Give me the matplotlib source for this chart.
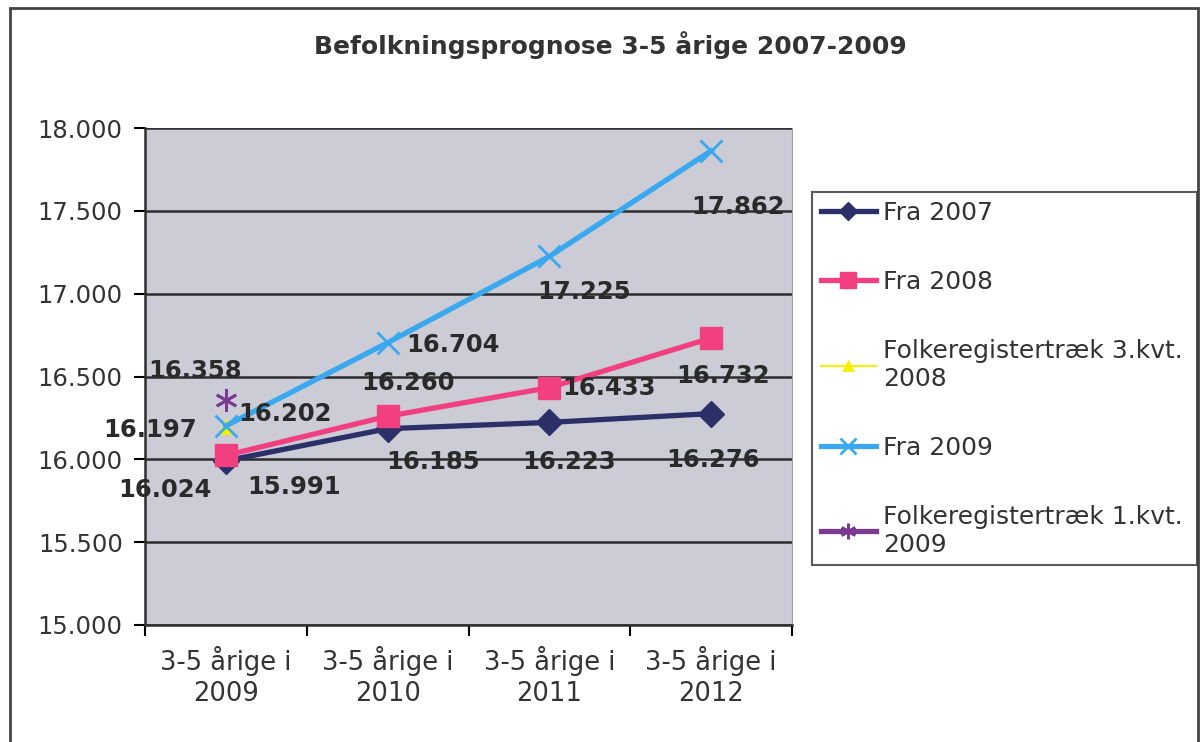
import matplotlib
matplotlib.use('Agg')
import matplotlib.pyplot as plt
from matplotlib.patches import Rectangle
import numpy as np

categories = ['3-5 årige i\n2009', '3-5 årige i\n2010', '3-5 årige i\n2011', '3-5 årige i\n2012']
fra_2007 = [15991, 16185, 16223, 16276]
fra_2008 = [16024, 16260, 16433, 16732]
folke_3kvt_2008 = [16197]
fra_2009 = [16202, 16704, 17225, 17862]
folke_1kvt_2009 = [16358]

# label offsets in pixels (dx, dy), one per point
off_2007 = [(68, -26), (45, -33), (20, -40), (2, -46)]
off_2008 = [(-61, -35), (20, 33), (60, 0), (12, -38)]
off_f3 = [(-76, -3)]
off_2009 = [(59, 12), (65, -2), (35, -36), (27, -56)]
off_f1 = [(-31, 29)]

plt.rcParams['font.family'] = ['DejaVu Sans']
fig = plt.figure(figsize=(12.03, 7.42), dpi=100)
ax = fig.add_axes([145/1203, 1-625/742, (792-145)/1203, (625-128)/742])
ax.set_facecolor('#cbccd6')

x = np.arange(len(categories))
series = [
    (fra_2007, 'Fra 2007', '#2b3068', 'D', 13, 3.8, off_2007),
    (fra_2008, 'Fra 2008', '#f23f80', 's', 16, 3.8, off_2008),
    (folke_3kvt_2008, 'Folkeregistertræk 3.kvt.\n2008', '#f5f000', '^', 9, 1.5, off_f3),
    (fra_2009, 'Fra 2009', '#3aa8ee', 'x', 16, 3.8, off_2009),
    (folke_1kvt_2009, 'Folkeregistertræk 1.kvt.\n2009', '#7a3a92', (6, 2, 0), 16, 3.8, off_f1),
]
handles = []
for vals, lab, col, mk, ms, lw, offs in series:
    xs = x[:len(vals)]
    h, = ax.plot(xs, vals, color=col, lw=lw, marker=mk, markersize=ms,
                 markeredgewidth=2 if mk in ('x', (6, 2, 0), '^') else 1,
                 markeredgecolor=col, label=lab, zorder=3)
    handles.append(h)
    for xi, v, (dx, dy) in zip(xs, vals, offs):
        ax.annotate(f'{v/1000:.3f}', (xi, v), xytext=(dx*0.72, dy*0.72),
                    textcoords='offset points', ha='center', va='center',
                    fontsize=17.5, fontweight='bold', color='#2a2a2a', zorder=4)

ax.set_xlim(-0.5, 3.5)
ax.set_ylim(15000, 18000)
ax.set_yticks(np.arange(15000, 18001, 500))
ax.set_yticklabels([f'{t/1000:.3f}' for t in np.arange(15000, 18001, 500)],
                   fontsize=17.5, color='#333333')
ax.set_xticks(x)
ax.set_xticklabels(categories, fontsize=18.5, color='#333333', linespacing=1.25)
ax.set_xticks(np.arange(-0.5, 3.6, 1), minor=True)
ax.tick_params(axis='x', which='major', length=0, pad=15)
ax.tick_params(axis='x', which='minor', length=8, width=1.5, direction='out')
ax.tick_params(axis='y', length=8, width=1.5, direction='out', pad=8)
ax.yaxis.grid(True, color='#2e2e2e', lw=1.8)
ax.set_axisbelow(True)
ax.spines['top'].set_visible(False)
ax.spines['right'].set_color('#a0a0a8')
ax.spines['left'].set_linewidth(1.8)
ax.spines['bottom'].set_linewidth(1.8)
ax.spines['left'].set_color('#2e2e2e')
ax.spines['bottom'].set_color('#2e2e2e')

fig.text(610/1203, 1-45/742, 'Befolkningsprognose 3-5 årige 2007-2009',
         ha='center', va='center', fontsize=18, fontweight='bold', color='#333333')

leg = fig.legend(handles=handles, loc='upper left',
                 bbox_to_anchor=(812/1203, 1-193/742, (1197-812)/1203, 0.001),
                 mode='expand', fontsize=18, frameon=True, fancybox=False,
                 edgecolor='#333333', labelspacing=1.8, handlelength=2.2,
                 handletextpad=0.3, borderpad=0.35, borderaxespad=0,
                 markerscale=0.7)
leg.get_frame().set_linewidth(1.5)
for t in leg.get_texts():
    t.set_color('#333333')

fig.patches.append(Rectangle((10/1203, -0.01), (1198-10)/1203, 1-8/742+0.01,
                             transform=fig.transFigure, fill=False,
                             edgecolor='#444444', lw=2))

fig.savefig('out.png', dpi=100)
